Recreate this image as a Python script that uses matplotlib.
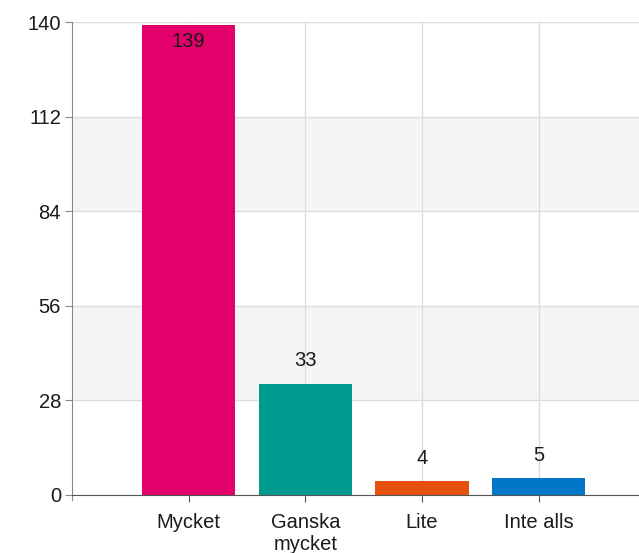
import numpy as np
import matplotlib
matplotlib.use("Agg")
import matplotlib.pyplot as plt

plt.rcParams['font.family'] = ['Liberation Sans', 'DejaVu Sans']

categories = ["Mycket", "Ganska\nmycket", "Lite", "Inte alls"]
values = [139, 33, 4, 5]
colors = ["#e2006a", "#009a8e", "#e6500f", "#0077c8"]
yticks = [0, 28, 56, 84, 112, 140]

fs = 14.5
fig = plt.figure(figsize=(6.39, 5.53), dpi=100)
ax = fig.add_axes([72 / 639, 58 / 553, 567 / 639, 473 / 553])

x = np.arange(1, len(categories) + 1)
ax.set_xlim(0, 567 / 116.7)
ax.set_ylim(0, 140)

# alternating bands
for lo, hi in [(28, 56), (84, 112)]:
    ax.axhspan(lo, hi, color="#f5f5f5", zorder=0, lw=0)
for t in yticks[1:]:
    ax.axhline(t, color="#dcdcdc", lw=1, zorder=1)
for xi in x:
    ax.axvline(xi, color="#dcdcdc", lw=1, zorder=1)

ax.bar(x, values, width=0.8, color=colors, zorder=2)

for xi, v in zip(x, values):
    if v > 100:
        ax.text(xi, v - 2, str(v), ha="center", va="top", fontsize=fs, color="#1a1a1a", zorder=3)
    else:
        ax.text(xi, v + 4, str(v), ha="center", va="bottom", fontsize=fs, color="#1a1a1a", zorder=3)

ax.set_yticks(yticks)
ax.set_yticklabels([str(t) for t in yticks], fontsize=fs, color="#1a1a1a")
ax.set_xticks(x)
ax.set_xticklabels(categories, fontsize=fs, color="#1a1a1a", linespacing=1.2)

for side in ["top", "right"]:
    ax.spines[side].set_visible(False)
ax.spines["left"].set_color("#888888")
ax.spines["bottom"].set_color("#555555")
ax.spines["left"].set_bounds(-1.5, 140)
ax.tick_params(axis="y", length=5, color="#888888", pad=3)
ax.tick_params(axis="x", length=5, color="#555555", pad=8)

fig.savefig("out.png", dpi=100)
